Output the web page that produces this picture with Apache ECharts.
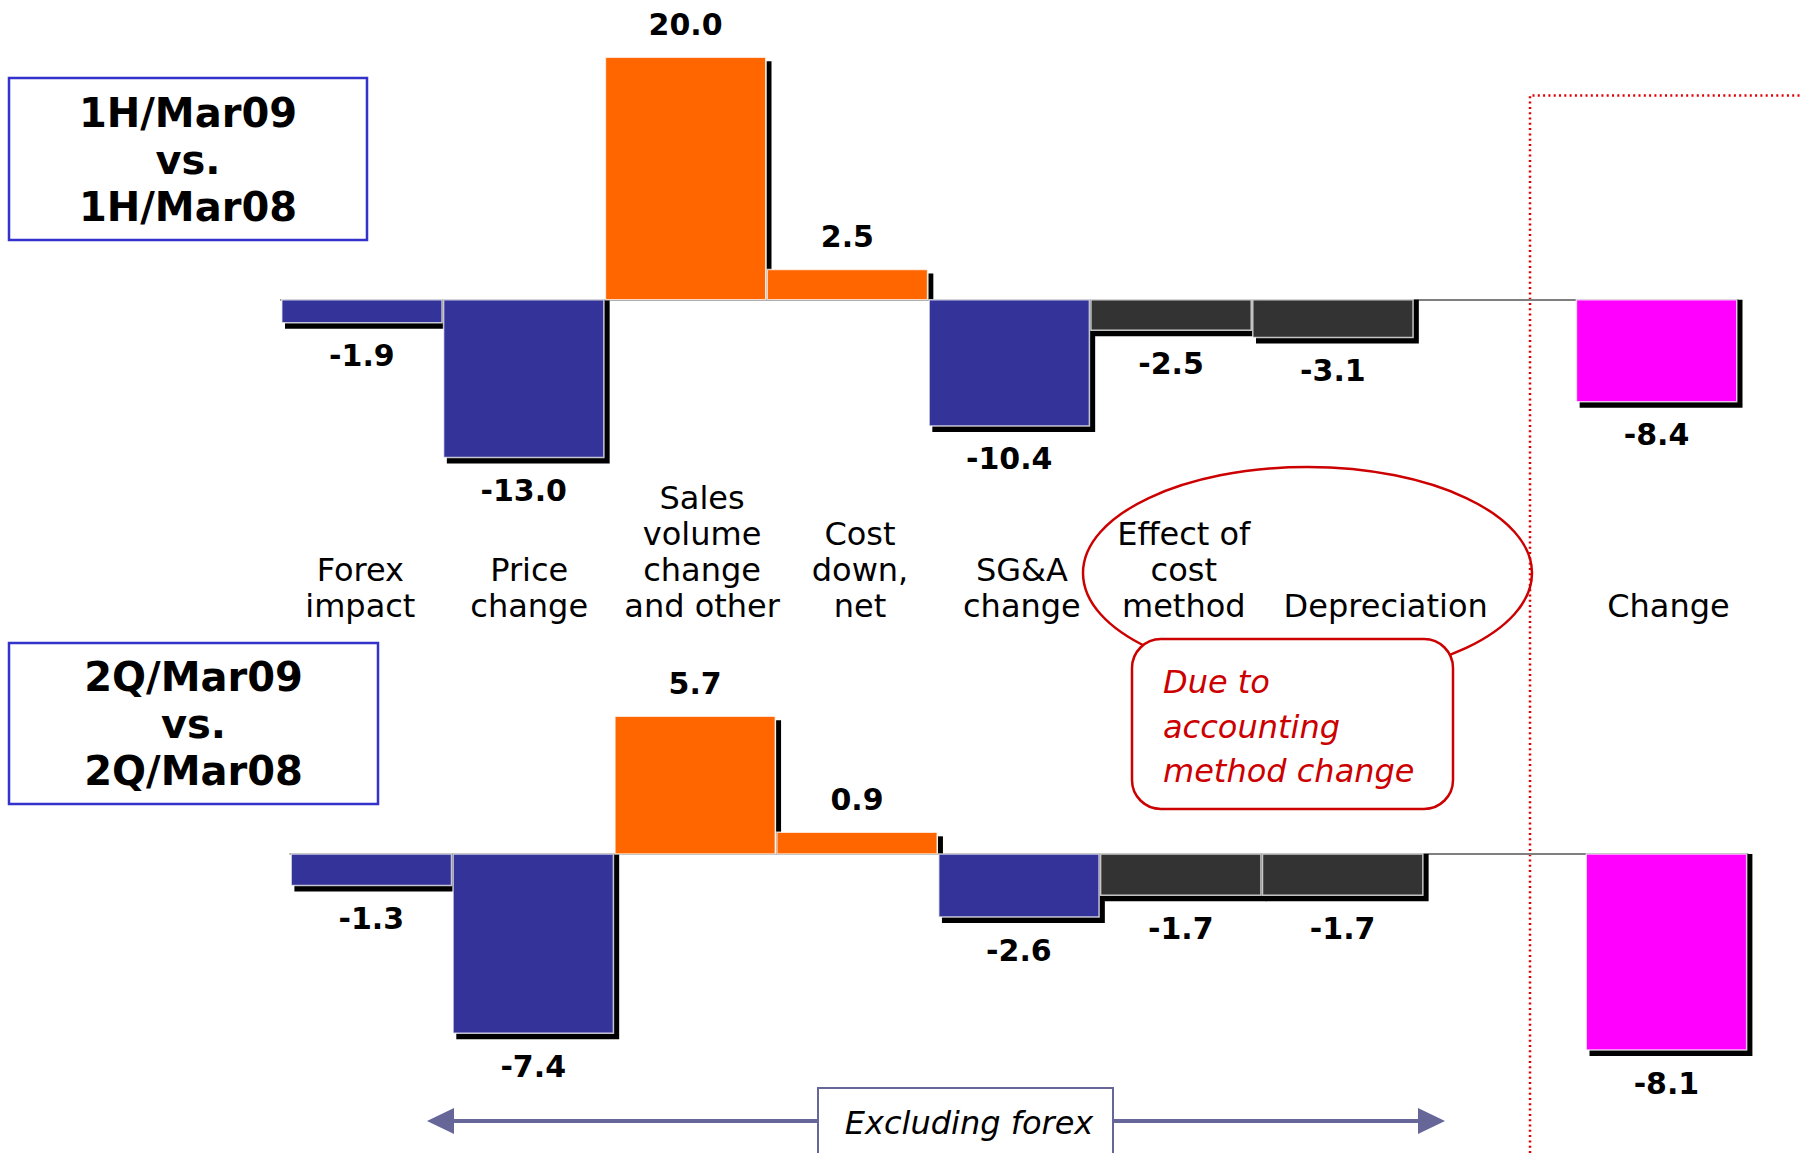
<!DOCTYPE html>
<html>
<head>
<meta charset="utf-8">
<script src="https://cdn.jsdelivr.net/npm/echarts@6/dist/echarts.min.js"></script>
<style>
  html, body { margin: 0; padding: 0; background: #fff; }
  #chart { width: 1800px; height: 1153px; }
</style>
</head>
<body>
<div id="chart"></div>
<script>
// Operating income change factors (billion yen), one slot left empty before the total
const categories = [
  'Forex\nimpact',
  'Price\nchange',
  'Sales\nvolume\nchange\nand other',
  'Cost\ndown,\nnet',
  'SG&A\nchange',
  'Effect of\ncost\nmethod',
  'Depreciation',
  '',
  'Change'
];
const halfYearValues = [-1.9, -13.0, 20.0, 2.5, -10.4, -2.5, -3.1, null, -8.4];
const quarterValues  = [-1.3, -7.4, 5.7, 0.9, -2.6, -1.7, -1.7, null, -8.1];

// Styling
const FONT = '"DejaVu Sans", Verdana, sans-serif';
const BLUE = '#333399', ORANGE = '#FF6600', DARK = '#333333', MAGENTA = '#FF00FF';
const barColors = [BLUE, BLUE, ORANGE, ORANGE, BLUE, DARK, DARK, null, MAGENTA];
const labelNudge = [-11, -4, 7, 3, 3, 3, 43, 0, 2];   // horizontal tweak of each category caption, px

function toData(values) {
  return values.map((v, i) => (v == null ? null : [i, v])).filter(Boolean);
}

// Flat bar with a hard black drop shadow and its value written beyond the bar end
function renderBar(params, api) {
  const i = api.value(0);
  const v = api.value(1);
  const base = api.coord([i, 0]);
  const end = api.coord([i, v]);
  const w = api.size([1, 0])[0];
  const x0 = base[0] - w / 2, x1 = base[0] + w / 2;
  const zeroY = base[1];
  const top = Math.min(zeroY, end[1]);
  const bot = Math.max(zeroY, end[1]);
  const children = [];
  if (v >= 0) {
    children.push({ type: 'rect', shape: { x: x1, y: top + 4, width: 5, height: Math.max(0, zeroY - top - 4) },
      style: { fill: '#000' } });
  } else {
    children.push({ type: 'rect', shape: { x: x0 + 4, y: zeroY, width: w + 1, height: bot - zeroY + 6 },
      style: { fill: '#000' } });
  }
  children.push({ type: 'rect', shape: { x: x0 + 0.75, y: top, width: w - 1.5, height: bot - top },
    style: { fill: barColors[i], stroke: 'rgba(255,255,255,0.75)', lineWidth: 1.5 } });
  children.push({ type: 'text',
    style: { text: v.toFixed(1), x: base[0], y: v >= 0 ? top - 33 : bot + 33,
      align: 'center', verticalAlign: 'middle', fontSize: 30, fontWeight: 'bold', fontFamily: FONT, fill: '#000' } });
  return { type: 'group', children };
}

const captionRich = {};
labelNudge.forEach((n, i) => {
  captionRich['n' + i] = {
    fontSize: 32, lineHeight: 36, fontFamily: FONT, color: '#000',
    padding: [0, n < 0 ? -2 * n : 0, 0, n > 0 ? 2 * n : 0]
  };
});

const zeroAxis = (gridIndex) => ({
  gridIndex, type: 'category', data: categories,
  axisLine: { show: true, onZero: true, lineStyle: { color: '#7f7f7f', width: 2 } },
  axisTick: { show: false }, axisLabel: { show: false }, splitLine: { show: false }
});

const chart = echarts.init(document.getElementById('chart'), null, { renderer: 'svg' });

chart.setOption({
  animation: false,
  backgroundColor: '#fff',
  grid: [
    { left: 281, width: 1456.5, top: 57.2, height: 485.2 },
    { left: 290.4, width: 1457, top: 636.3, height: 435.6 }
  ],
  xAxis: [
    zeroAxis(0),
    zeroAxis(1),
    {
      gridIndex: 1, type: 'category', data: categories, position: 'top',
      axisLine: { show: false, onZero: false }, axisTick: { show: false }, splitLine: { show: false },
      axisLabel: {
        show: true, interval: 0, margin: 12,
        formatter: (value, index) => value ? value.split('\n').map(l => '{n' + index + '|' + l + '}').join('\n') : '',
        rich: captionRich
      }
    }
  ],
  yAxis: [
    { gridIndex: 0, type: 'value', min: -20, max: 20, show: false, splitLine: { show: false } },
    { gridIndex: 1, type: 'value', min: -9, max: 9, show: false, splitLine: { show: false } }
  ],
  series: [
    { type: 'custom', name: '1H', xAxisIndex: 0, yAxisIndex: 0, renderItem: renderBar,
      encode: { x: 0, y: 1 }, data: toData(halfYearValues) },
    { type: 'custom', name: '2Q', xAxisIndex: 1, yAxisIndex: 1, renderItem: renderBar,
      encode: { x: 0, y: 1 }, data: toData(quarterValues) }
  ],
  graphic: [
    // period captions
    { type: 'rect', shape: { x: 9, y: 78, width: 358, height: 162 },
      style: { fill: '#fff', stroke: '#3333CC', lineWidth: 2.5 } },
    { type: 'text', x: 188, y: 159.5,
      style: { text: '1H/Mar09\nvs.\n1H/Mar08', align: 'center', verticalAlign: 'middle',
        fontSize: 40, fontWeight: 'bold', fontFamily: FONT, lineHeight: 47, fill: '#000' } },
    { type: 'rect', shape: { x: 9, y: 643, width: 369, height: 161 },
      style: { fill: '#fff', stroke: '#3333CC', lineWidth: 2.5 } },
    { type: 'text', x: 193.5, y: 724,
      style: { text: '2Q/Mar09\nvs.\n2Q/Mar08', align: 'center', verticalAlign: 'middle',
        fontSize: 40, fontWeight: 'bold', fontFamily: FONT, lineHeight: 47, fill: '#000' } },

    // separator before the total
    { type: 'polyline', shape: { points: [[1530, 1153], [1530, 95.5], [1800, 95.5]] },
      style: { fill: null, stroke: '#E00000', lineWidth: 2.5, lineDash: [2, 3.3] } },

    // accounting-method callout
    { type: 'ellipse', shape: { cx: 1307.5, cy: 573, rx: 224.5, ry: 106 },
      style: { fill: null, stroke: '#CC0000', lineWidth: 2.5 } },
    { type: 'rect', shape: { x: 1132, y: 639, width: 321, height: 170, r: 29 },
      style: { fill: '#fff', stroke: '#CC0000', lineWidth: 2.5 } },
    { type: 'text', x: 1163, y: 726.5,
      style: { text: 'Due to\naccounting\nmethod change', align: 'left', verticalAlign: 'middle',
        fontSize: 32, fontStyle: 'italic', fontFamily: FONT, lineHeight: 44.5, fill: '#CC0000' } },

    // range arrow
    { type: 'line', shape: { x1: 450, y1: 1121, x2: 1420, y2: 1121 },
      style: { stroke: '#666699', lineWidth: 4 } },
    { type: 'polygon', shape: { points: [[427, 1121], [454, 1108], [454, 1134]] },
      style: { fill: '#666699' } },
    { type: 'polygon', shape: { points: [[1445, 1121], [1418, 1108], [1418, 1134]] },
      style: { fill: '#666699' } },
    { type: 'rect', shape: { x: 818, y: 1088, width: 295, height: 90 },
      style: { fill: '#fff', stroke: '#666699', lineWidth: 2 } },
    { type: 'text', x: 969, y: 1123,
      style: { text: 'Excluding forex', align: 'center', verticalAlign: 'middle',
        fontSize: 32, fontStyle: 'italic', fontFamily: FONT, fill: '#000' } }
  ]
});
</script>
</body>
</html>
